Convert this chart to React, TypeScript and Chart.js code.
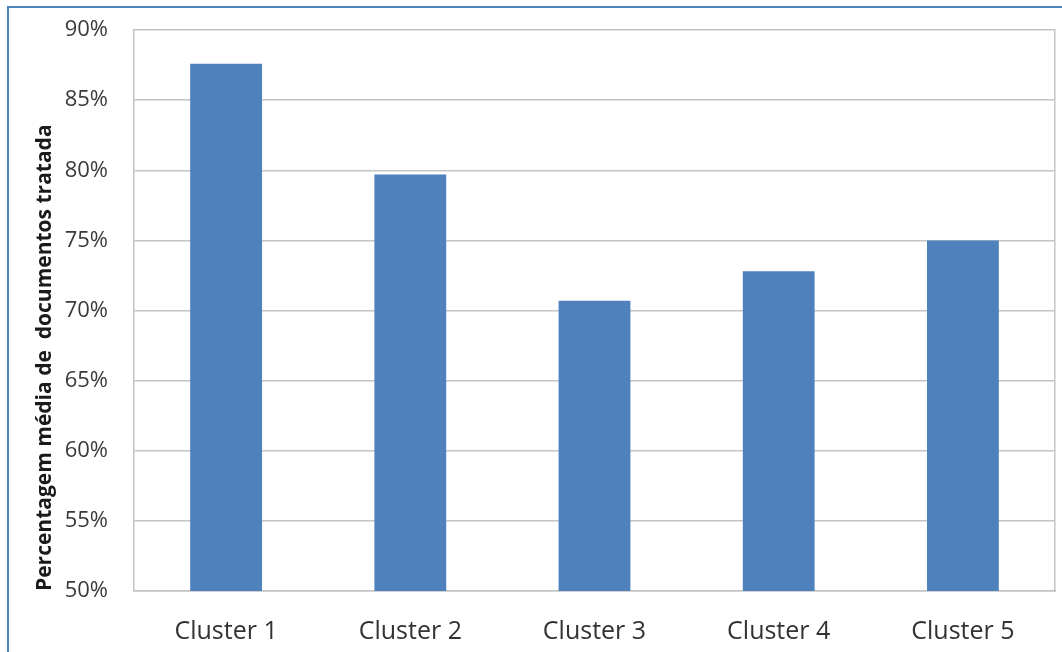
import React, { useEffect, useRef } from "react";
import { Chart, registerables } from "chart.js";

Chart.register(...registerables);

const categories = ["Cluster 1", "Cluster 2", "Cluster 3", "Cluster 4", "Cluster 5"];
const values = [87.6, 79.7, 70.7, 72.8, 75.0];
const yTicks = [50, 55, 60, 65, 70, 75, 80, 85, 90];
const yTitle = "Percentagem média de  documentos tratada";

export default function App() {
  const ref = useRef<HTMLCanvasElement | null>(null);

  useEffect(() => {
    if (!ref.current) return;
    const chart = new Chart(ref.current, {
      type: "bar",
      data: {
        labels: categories,
        datasets: [
          {
            data: values,
            backgroundColor: "#4F81BD",
            borderWidth: 0,
            barPercentage: 0.39,
            categoryPercentage: 1,
          },
        ],
      },
      options: {
        responsive: false,
        animation: false,
        layout: { padding: { top: 30, right: 0, left: 0, bottom: 0 } },
        plugins: { legend: { display: false }, tooltip: { enabled: false } },
        scales: {
          x: {
            grid: { display: false, drawTicks: false },
            border: { display: true, color: "#c4c4c4", width: 1.5 },
            ticks: {
              padding: 26,
              color: "#333333",
              font: { family: "Open Sans", size: 25 },
            },
            afterFit: (s: any) => {
              s.height = 61;
            },
          },
          y: {
            min: 50,
            max: 90,
            afterBuildTicks: (s: any) => {
              s.ticks = yTicks.map((v) => ({ value: v }));
            },
            grid: { color: "#c4c4c4", lineWidth: 1.5, drawTicks: false },
            border: { display: true, color: "#c4c4c4", width: 1.5 },
            ticks: {
              padding: 26,
              color: "#3a3a3a",
              font: { family: "Open Sans", size: 22 },
              callback: (v: any) => `${v}%`,
            },
            title: {
              display: true,
              text: yTitle,
              align: "start",
              color: "#1a1a1a",
              font: { family: "Open Sans", size: 21, weight: "bold" },
              padding: { top: 32, bottom: 0 },
            },
            afterFit: (s: any) => {
              s.width = 134;
              s.paddingTop = 10;
              s.paddingBottom = 10;
            },
          },
          y2: {
            position: "right",
            display: true,
            grid: { display: false, drawTicks: false },
            border: { display: true, color: "#c4c4c4", width: 1.5 },
            ticks: { display: false },
            afterFit: (s: any) => {
              s.width = 7;
              s.paddingTop = 0;
              s.paddingBottom = 0;
            },
          },
        },
      },
    });
    return () => chart.destroy();
  }, []);

  return (
    <>
      <canvas
        ref={ref}
        width={1062}
        height={652}
        style={{ position: "absolute", left: 0, top: 0, width: 1062, height: 652 }}
      />
      <div
        style={{
          position: "absolute",
          left: 7,
          top: 6,
          width: 1100,
          height: 700,
          borderTop: "2px solid #4F81BD",
          borderLeft: "2px solid #4F81BD",
          pointerEvents: "none",
        }}
      />
    </>
  );
}
